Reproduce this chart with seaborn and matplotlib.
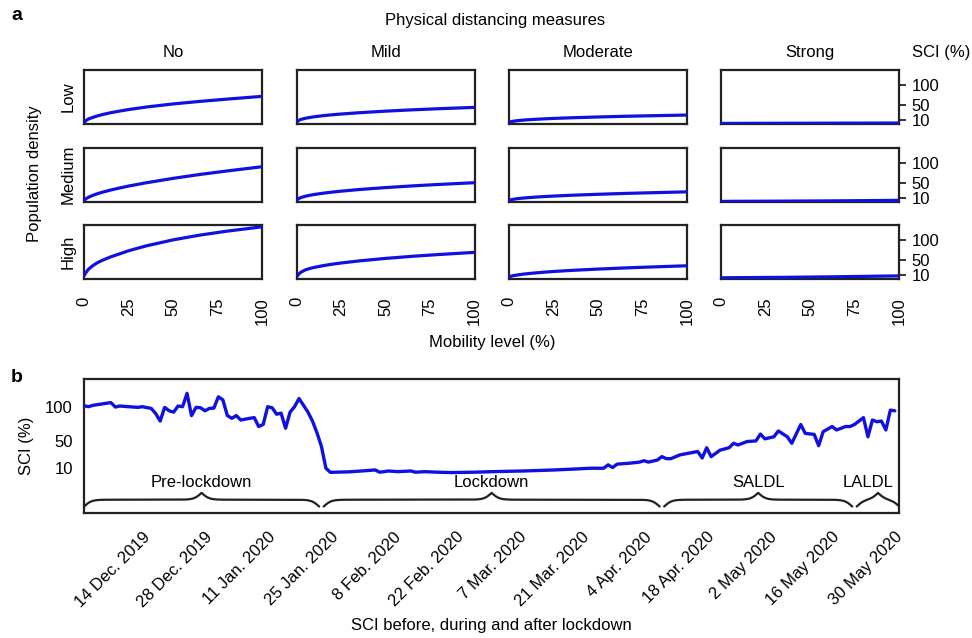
import numpy as np
import pandas as pd
import matplotlib
matplotlib.use('Agg')
import matplotlib.pyplot as plt
import matplotlib.dates as mdates
import seaborn as sns

# ---- panel a: SCI (%) vs mobility level, per distancing level and density ----
mobility = [0, 1, 2.5, 5, 7.5, 10, 15, 20, 25, 35, 50, 65, 80, 100]
distancing = ['No', 'Mild', 'Moderate', 'Strong']
density = ['Low', 'Medium', 'High']

sci_no_low = [2.6, 8.8, 12.9, 17, 20.7, 23.8, 29, 33.2, 37.1, 43.6, 51.5, 58, 63.8, 71]
sci_no_medium = [2.6, 8.1, 12.2, 17.2, 21.2, 24.7, 30.8, 36, 40.9, 49.4, 60.7, 70.7, 79.5, 90.6]
sci_no_high = [8.5, 16, 25, 34.5, 41.8, 47.4, 56.8, 64.6, 72.5, 85.1, 100.5, 112.7, 122.7, 134]
sci_mild_low = [2.6, 8.9, 11.8, 14.7, 16.8, 18.6, 21.4, 23.7, 25.6, 28.9, 33, 36.4, 39.3, 42.7]
sci_mild_medium = [2.6, 8.5, 11.5, 14.8, 17.3, 19.3, 22.6, 25.4, 27.8, 32, 37, 41.3, 45.1, 49.6]
sci_mild_high = [4.3, 11.5, 17.5, 23.5, 27.1, 29.8, 34.3, 38, 41.1, 46.4, 52.9, 58.3, 62.9, 68.4]
sci_moderate_low = [2.5, 5.7, 7.2, 8.7, 9.8, 10.7, 12.1, 13.3, 14.3, 16, 18, 19.8, 21.2, 23]
sci_moderate_medium = [2.6, 5.6, 7.1, 8.7, 9.9, 10.9, 12.6, 14, 15.2, 17.3, 19.8, 22, 23.8, 26.1]
sci_moderate_high = [4.3, 7, 8.8, 10.5, 12.2, 13.5, 15.7, 17.6, 19.3, 22.1, 25.5, 28.4, 30.9, 34]
sci_strong_low = [1.5, 1.5, 1.5, 1.6, 1.6, 1.6, 1.7, 1.7, 1.8, 1.9, 2.0, 2.2, 2.3, 2.5]
sci_strong_medium = [1.5, 1.5, 1.6, 1.7, 1.8, 1.8, 1.9, 2.0, 2.1, 2.3, 2.6, 3.0, 3.5, 4.3]
sci_strong_high = [3, 3.1, 3.2, 3.3, 3.4, 3.5, 3.6, 3.8, 4, 4.3, 5, 5.8, 6.7, 8]

curves = {
    ('No', 'Low'): sci_no_low, ('No', 'Medium'): sci_no_medium, ('No', 'High'): sci_no_high,
    ('Mild', 'Low'): sci_mild_low, ('Mild', 'Medium'): sci_mild_medium, ('Mild', 'High'): sci_mild_high,
    ('Moderate', 'Low'): sci_moderate_low, ('Moderate', 'Medium'): sci_moderate_medium,
    ('Moderate', 'High'): sci_moderate_high,
    ('Strong', 'Low'): sci_strong_low, ('Strong', 'Medium'): sci_strong_medium,
    ('Strong', 'High'): sci_strong_high,
}
mobility_ticks = [0, 25, 50, 75, 100]
sci_ticks = [10, 50, 100]

# ---- panel b: daily SCI before, during and after lockdown ----
start_date = '2019-12-01'
day_offset = [0, 1, 2, 4, 6, 7, 8, 10, 12, 13, 15, 16, 17, 18, 19, 20, 21, 22, 23, 24,
              25, 26, 27, 28, 29, 30, 31, 32, 33, 34, 35, 37, 38, 39, 40, 41, 42, 43, 44, 45,
              46, 47, 48, 49, 50, 51, 52, 53, 54, 55, 56, 59, 62, 65, 66, 68, 70, 73, 74, 76,
              79, 82, 87, 91, 98, 105, 110, 113, 116, 117, 118, 119, 122, 124, 125, 126, 128, 129, 130, 131,
              133, 135, 137, 138, 139, 140, 142, 144, 145, 146, 148, 150, 151, 152, 154, 155, 157, 158, 160, 161,
              163, 164, 165, 167, 168, 170, 171, 172, 174, 175, 176, 177, 178, 179, 180, 181]
sci_daily = [101.5, 100, 102, 104, 106, 99.5, 101, 100, 99, 100, 97.5, 90, 79, 99, 94, 92, 101, 100, 119.5, 87,
             99, 98.5, 94, 97.5, 98, 114.5, 110, 87, 83, 87, 80.5, 83, 84, 71, 74, 100, 98.5, 89, 90.5, 68.5,
             92, 100, 112, 102, 92, 79, 62, 42, 10, 4, 4.2, 4.7, 6, 7.5, 4.2, 6, 5, 6, 4.2, 5,
             4.2, 3.7, 4.2, 5, 6, 7.5, 9, 10, 10, 15, 11, 16, 17.5, 19, 21, 19, 22, 27, 24, 24,
             29.5, 32, 34.5, 25, 40, 27, 36.5, 40, 46.5, 44, 49, 50, 60, 53, 56, 64.5, 56, 46.5, 74, 61,
             59.5, 43, 63.5, 71, 66, 71, 71, 74, 84, 56, 80.5, 78, 79, 66, 95, 94]
date_ticks = ['2019-12-14', '2019-12-28', '2020-01-11', '2020-01-25', '2020-02-08', '2020-02-22',
              '2020-03-07', '2020-03-21', '2020-04-04', '2020-04-18', '2020-05-02', '2020-05-16',
              '2020-05-30']
date_labels = ['14 Dec. 2019', '28 Dec. 2019', '11 Jan. 2020', '25 Jan. 2020', '8 Feb. 2020',
               '22 Feb. 2020', '7 Mar. 2020', '21 Mar. 2020', '4 Apr. 2020', '18 Apr. 2020',
               '2 May 2020', '16 May 2020', '30 May 2020']
phase_names = ['Pre-lockdown', 'Lockdown', 'SALDL', 'LALDL']
phase_edges = ['2019-12-01', '2020-01-23', '2020-04-08', '2020-05-21', '2020-05-31']

sns.set_theme(style='white')
plt.rcParams['font.family'] = ['Liberation Sans', 'DejaVu Sans']
plt.rcParams['font.size'] = 12
plt.rcParams['text.color'] = 'black'
plt.rcParams['axes.labelcolor'] = 'black'
plt.rcParams['xtick.color'] = 'black'
plt.rcParams['ytick.color'] = 'black'

blue = '#1010e0'
ink = '#222222'
W, H = 972, 638

fig = plt.figure(figsize=(W / 100, H / 100), dpi=100)


def fx(px):
    return px / W


def fy(py):
    return 1 - py / H


def px_axes(left, top, width, height):
    return fig.add_axes([left / W, 1 - (top + height) / H, width / W, height / H])


def style_box(ax):
    for s in ax.spines.values():
        s.set_visible(True)
        s.set_color(ink)
        s.set_linewidth(1.6)
    ax.tick_params(direction='out', color=ink, width=1.3, labelsize=12, labelcolor='black')


col_left = [84, 296.5, 509, 721]
row_top = [69.5, 147.5, 224.5]
box_w, box_h = 178, 54.5

for c, dist in enumerate(distancing):
    for r, dens in enumerate(density):
        ax = px_axes(col_left[c], row_top[r], box_w, box_h)
        sns.lineplot(x=mobility, y=curves[(dist, dens)], ax=ax, color=blue, lw=2.3, zorder=3)
        ax.set_xlim(0, 100)
        ax.set_ylim(0, 140)
        ax.set_xlabel('')
        ax.set_ylabel('')
        style_box(ax)
        if r == 2:
            ax.set_xticks(mobility_ticks)
            ax.set_xticklabels([str(t) for t in mobility_ticks], rotation=90)
            ax.tick_params(axis='x', length=7, pad=6)
        else:
            ax.set_xticks([])
        if c == 3:
            ax.yaxis.tick_right()
            ax.set_yticks(sci_ticks)
            ax.set_yticklabels([str(t) for t in sci_ticks])
            ax.tick_params(axis='y', length=5, pad=4)
        else:
            ax.set_yticks([])
        if r == 0:
            ax.set_title(dist, fontsize=12, pad=9)
        if c == 0:
            ax.set_ylabel(dens, fontsize=12, labelpad=6)

fig.text(fx(17), fy(15), 'a', fontsize=14, fontweight='bold', ha='center', va='center')
fig.text(fx(495), fy(21), 'Physical distancing measures', fontsize=12, ha='center', va='center')
fig.text(fx(912), fy(52), 'SCI (%)', fontsize=12, ha='left', va='center')
fig.text(fx(35), fy(174), 'Population density', fontsize=12, rotation=90, ha='center', va='center')
fig.text(fx(492), fy(343), 'Mobility level (%)', fontsize=12, ha='center', va='center')

# ---- panel b ----
axb = px_axes(84, 379, 815.3, 133.7)
dates = pd.to_datetime(start_date) + pd.to_timedelta(day_offset, unit='D')
df_b = pd.DataFrame({'date': dates, 'sci': sci_daily})
sns.lineplot(data=df_b, x='date', y='sci', ax=axb, color=blue, lw=2.4, zorder=3)
axb.set_xlim(pd.Timestamp(phase_edges[0]), pd.Timestamp(phase_edges[-1]))
axb.set_ylim(-55, 140.5)
style_box(axb)
axb.set_yticks(sci_ticks)
axb.set_yticklabels([str(t) for t in sci_ticks])
axb.tick_params(axis='y', length=5, pad=3)
axb.set_xticks(pd.to_datetime(date_ticks))
axb.set_xticklabels(date_labels, rotation=45, ha='right', va='top', rotation_mode='anchor')
axb.tick_params(axis='x', length=7, pad=5)
axb.set_xlabel('SCI before, during and after lockdown', fontsize=12, labelpad=6)
axb.set_ylabel('SCI (%)', fontsize=12, labelpad=8)


def draw_brace(ax, x0, x1, y_mid, amp, beta=1.2):
    half = np.linspace(0, (x1 - x0) / 2, 200)
    yh = 1 / (1 + np.exp(-beta * (half - half[0]))) + 1 / (1 + np.exp(-beta * (half - half[-1])))
    xs = np.concatenate([x0 + half, x1 - half[-2::-1]])
    ys = np.concatenate([yh, yh[-2::-1]])
    ax.plot(xs, y_mid + (ys - 1) * 2 * amp, color=ink, lw=1.6, clip_on=True, zorder=2)


edges = mdates.date2num(pd.to_datetime(phase_edges))
for i, name in enumerate(phase_names):
    x0, x1 = edges[i] + 0.5, edges[i + 1] - 0.5
    if i == 0:
        x0 = edges[i]
    if i == len(phase_names) - 1:
        x1 = edges[i + 1]
    draw_brace(axb, x0, x1, -36, 10)
    xm = (x0 + x1) / 2
    if i == len(phase_names) - 1:
        xm = x1 - 1.2
        axb.text(xm, -11, name, ha='right', va='center', fontsize=12)
    else:
        axb.text(xm, -11, name, ha='center', va='center', fontsize=12)

fig.text(fx(17), fy(378), 'b', fontsize=14, fontweight='bold', ha='center', va='center')

fig.savefig('out.png', dpi=100)
